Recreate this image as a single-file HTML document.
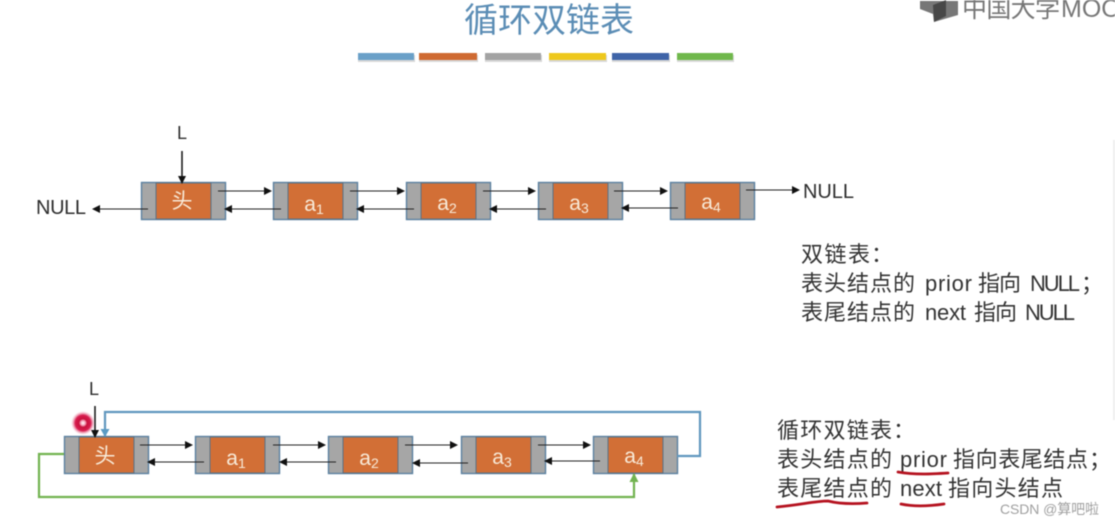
<!DOCTYPE html>
<html><head><meta charset="utf-8"><style>
html,body{margin:0;padding:0;background:#fff}
svg{display:block;filter:blur(.45px)}
text{font-family:"Liberation Sans","Noto Sans CJK SC",sans-serif}
.t{fill:#333;font-size:22px}
.c{fill:#f8ead8;font-size:21px}
.n{fill:#2e2e2e;font-size:20px}
</style></head><body>
<svg width="1115" height="526" viewBox="0 0 1115 526" xmlns="http://www.w3.org/2000/svg">
<defs>
<marker id="k" markerWidth="8" markerHeight="8" refX="7" refY="4" orient="auto" markerUnits="userSpaceOnUse"><path d="M0 0L8 4L0 8Z" fill="#111"/></marker>
<marker id="b" markerWidth="8" markerHeight="9" refX="7" refY="4.5" orient="auto" markerUnits="userSpaceOnUse"><path d="M0 0L8 4.5L0 9Z" fill="#5b9bc4"/></marker>
<marker id="g" markerWidth="9" markerHeight="9" refX="8" refY="4.5" orient="auto" markerUnits="userSpaceOnUse"><path d="M0 0L9 4.5L0 9Z" fill="#72b350"/></marker>
<radialGradient id="r"><stop offset="0" stop-color="#fff"/><stop offset=".2" stop-color="#f5a0b8"/><stop offset=".35" stop-color="#c8103c"/><stop offset=".65" stop-color="#d81e50"/><stop offset="1" stop-color="#f4b0c4" stop-opacity="0"/></radialGradient>
<g id="node">
<rect x=".5" y=".5" width="84" height="37" fill="#a6a6a6" stroke="#5b80a0" stroke-width="1.4"/>
<rect x="15" y="1" width="55" height="36" fill="#d26f36" stroke="#5a7286" stroke-width="1"/>
</g>
</defs>
<rect width="1115" height="526" fill="#fff"/>

<text x="549" y="32" text-anchor="middle" font-size="34" fill="#5b8db5">循环双链表</text>

<g>
<rect x="358" y="55" width="57" height="7" fill="#d8d8d8"/>
<rect x="419" y="55" width="59" height="7" fill="#d8d8d8"/>
<rect x="485" y="55" width="57" height="7" fill="#d8d8d8"/>
<rect x="549" y="55" width="58" height="7" fill="#d8d8d8"/>
<rect x="612" y="55" width="58" height="7" fill="#d8d8d8"/>
<rect x="677" y="55" width="57" height="7" fill="#d8d8d8"/>
<rect x="358" y="53" width="56" height="7" fill="#6aa0c8"/>
<rect x="419" y="53" width="58" height="7" fill="#cf6a32"/>
<rect x="485" y="53" width="56" height="7" fill="#a3a3a3"/>
<rect x="549" y="53" width="57" height="7" fill="#eec81c"/>
<rect x="612" y="53" width="57" height="7" fill="#3f64a8"/>
<rect x="677" y="53" width="56" height="7" fill="#70b84c"/>
</g>

<path d="M920 1H958V15L934 22L933 14L920 9Z" fill="#777"/>
<path d="M933 5L946 0V16L934 22Z" fill="#474747"/>
<text x="962" y="17" font-size="25" fill="#777" textLength="98">中国大学</text>
<text x="1061" y="17" font-size="25" fill="#777">MOOC</text>

<!-- row 1 -->
<use href="#node" x="141" y="182"/>
<use href="#node" x="273" y="182"/>
<use href="#node" x="406" y="182"/>
<use href="#node" x="538" y="182"/>
<use href="#node" x="670" y="182"/>

<text x="182" y="139" text-anchor="middle" class="n" style="font-size:18px">L</text>
<path d="M182 151V183" stroke="#111" stroke-width="1.5" marker-end="url(#k)" fill="none"/>
<text x="36" y="214" class="n" textLength="50">NULL</text>
<text x="803" y="198" class="n" textLength="51">NULL</text>

<g stroke="#222" stroke-width="1.1" fill="none" marker-end="url(#k)">
<path d="M148 209H93"/>
<path d="M218 191H271"/>
<path d="M281 209H225"/>
<path d="M350 191H404"/>
<path d="M414 209H357"/>
<path d="M483 191H535"/>
<path d="M546 209H490"/>
<path d="M614 191H667"/>
<path d="M678 208H622"/>
<path d="M746 190H799"/>
</g>

<text x="182" y="208" text-anchor="middle" class="c">头</text>
<text x="314" y="211" text-anchor="middle" class="c">a<tspan font-size="14" dy="3">1</tspan></text>
<text x="447" y="210" text-anchor="middle" class="c">a<tspan font-size="14" dy="3">2</tspan></text>
<text x="579" y="210" text-anchor="middle" class="c">a<tspan font-size="14" dy="3">3</tspan></text>
<text x="711" y="209" text-anchor="middle" class="c">a<tspan font-size="14" dy="3">4</tspan></text>

<text x="801" y="262" class="t" textLength="69">双链表</text><text x="871" y="262" class="t">：</text>
<text x="801" y="291" class="t" textLength="114">表头结点的</text>
<text x="925" y="291" class="t" textLength="47">prior</text>
<text x="978" y="291" class="t" textLength="43">指向</text>
<text x="1030" y="291" class="t" textLength="50">NULL</text>
<text x="1081" y="291" class="t">；</text>
<text x="801" y="320" class="t" textLength="114">表尾结点的</text>
<text x="925" y="320" class="t" textLength="41">next</text>
<text x="974" y="320" class="t" textLength="43">指向</text>
<text x="1025" y="320" class="t" textLength="50">NULL</text>

<!-- row 2 -->
<use href="#node" x="64" y="436"/>
<use href="#node" x="195" y="436"/>
<use href="#node" x="328" y="436"/>
<use href="#node" x="461" y="436"/>
<use href="#node" x="593" y="436"/>

<path d="M677 456H700V412H105V436" stroke="#6097be" stroke-width="2.2" fill="none" marker-end="url(#b)"/>
<path d="M64 454H39V497H634V474" stroke="#72b350" stroke-width="2.2" fill="none" marker-end="url(#g)"/>

<text x="94" y="395" text-anchor="middle" class="n" style="font-size:18px">L</text>
<path d="M95 406V437" stroke="#111" stroke-width="1.5" marker-end="url(#k)" fill="none"/>

<circle cx="83" cy="423" r="12" fill="url(#r)"/>

<g stroke="#222" stroke-width="1.1" fill="none" marker-end="url(#k)">
<path d="M140 445H192"/>
<path d="M204 462H148"/>
<path d="M273 445H325"/>
<path d="M336 462H280"/>
<path d="M405 445H457"/>
<path d="M468 463H413"/>
<path d="M538 445H590"/>
<path d="M600 461H545"/>
</g>

<text x="105" y="463" text-anchor="middle" class="c">头</text>
<text x="236" y="465" text-anchor="middle" class="c">a<tspan font-size="14" dy="3">1</tspan></text>
<text x="369" y="465" text-anchor="middle" class="c">a<tspan font-size="14" dy="3">2</tspan></text>
<text x="502" y="464" text-anchor="middle" class="c">a<tspan font-size="14" dy="3">3</tspan></text>
<text x="634" y="463" text-anchor="middle" class="c">a<tspan font-size="14" dy="3">4</tspan></text>

<text x="777" y="438" class="t" textLength="115">循环双链表</text><text x="893" y="438" class="t">：</text>
<text x="777" y="467" class="t" textLength="115">表头结点的</text>
<text x="900" y="467" class="t" textLength="47">prior</text>
<text x="953" y="467" class="t" textLength="135">指向表尾结点</text>
<text x="1089" y="467" class="t">；</text>
<text x="777" y="496" class="t" textLength="115">表尾结点的</text>
<text x="900" y="496" class="t" textLength="42">next</text>
<text x="948" y="496" class="t" textLength="115">指向头结点</text>

<g stroke="#b5121f" stroke-width="2.8" fill="none" stroke-linecap="round">
<path d="M898 472C915 475 932 474 948 473"/>
<path d="M777 507C800 505 815 501 828 501C840 504 855 504 867 503"/>
<path d="M901 504C915 507 930 506 944 504"/>
</g>

<text x="1000" y="514" font-size="14" fill="#a0a0a0" textLength="99">CSDN @算吧啦</text>
<rect x="1113" y="140" width="2" height="280" fill="#eee"/>
</svg>
</body></html>
